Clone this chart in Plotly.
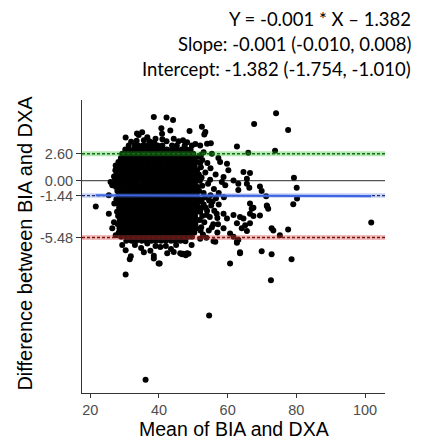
import plotly.graph_objects as go

# Bland-Altman summary statistics
mean_diff = -1.44
upper_loa = 2.60
lower_loa = -5.48
slope = -0.001
slope_ci = (-0.010, 0.008)
intercept = -1.382
intercept_ci = (-1.754, -1.010)

x_ticks = [20, 40, 60, 80, 100]
y_ticks = [upper_loa, 0.0, mean_diff, lower_loa]
y_tick_text = ["2.60", "0.00", "-1.44", "-5.48"]

# Dense central cloud of observations, listed row by row (difference value, means)
core_row_y = [3.4, 3.0, 2.6, 2.2, 1.8, 1.4, 1.0, 0.6, 0.2, -0.2, -0.6, -1.0,
              -1.4, -1.8, -2.2, -2.6, -3.0, -3.4, -3.8, -4.2, -4.6, -5.0, -5.4, -5.8]
core_row_x = [
    [31.2, 33.0, 34.0, 35.4, 36.6, 38.0, 39.6, 41.0, 43.8, 45.2, 47.5],
    [30.2, 31.1, 32.6, 34.0, 35.3, 36.8, 38.2, 39.5, 41.0, 42.3, 43.8, 45.1, 46.6, 48.0, 49.2],
    [29.3, 30.3, 31.7, 33.1, 34.6, 35.9, 37.4, 38.8, 40.1, 41.6, 43.0, 44.4, 45.8, 47.2, 48.6, 50.0],
    [28.9, 29.9, 31.0, 32.4, 33.8, 35.2, 36.6, 38.0, 39.4, 40.8, 42.2, 43.6, 45.0, 46.4, 47.8, 49.2, 50.4],
    [28.2, 29.4, 30.2, 31.6, 33.0, 34.4, 35.8, 37.2, 38.6, 40.0, 41.4, 42.8, 44.2, 45.6, 47.0, 48.4, 49.8, 50.9],
    [27.6, 28.9, 30.0, 30.9, 32.2, 33.7, 35.0, 36.5, 37.8, 39.3, 40.6, 42.1, 43.4, 44.9, 46.2, 47.7, 49.0, 50.4],
    [27.3, 28.7, 30.1, 31.5, 32.9, 34.3, 35.7, 37.1, 38.5, 39.9, 41.3, 42.7, 44.1, 45.5, 46.9, 48.3, 49.7, 51.1],
    [27.6, 28.9, 29.7, 30.9, 32.3, 33.7, 35.1, 36.5, 37.9, 39.3, 40.7, 42.1, 43.5, 44.9, 46.3, 47.7, 49.1, 50.5, 51.6],
    [27.2, 28.5, 29.6, 30.8, 32.0, 33.0, 34.4, 35.8, 37.2, 38.6, 40.0, 41.4, 42.8, 44.2, 45.6, 47.0, 48.4, 49.8, 51.0],
    [27.0, 28.3, 29.5, 30.9, 32.3, 33.6, 35.1, 36.5, 37.9, 39.2, 40.7, 42.1, 43.5, 44.8, 46.3, 47.7, 49.1, 50.5],
    [27.5, 28.7, 30.2, 31.6, 33.0, 34.4, 35.8, 37.2, 38.6, 40.0, 41.4, 42.8, 44.2, 45.6, 47.0, 48.4, 49.8, 51.3],
    [27.9, 29.2, 30.3, 31.5, 32.6, 33.7, 35.1, 36.5, 37.9, 39.3, 40.7, 42.1, 43.5, 44.9, 46.3, 47.7, 49.1, 50.6],
    [28.2, 29.4, 30.6, 31.6, 33.0, 34.4, 35.8, 37.2, 38.6, 40.0, 41.4, 42.8, 44.2, 45.6, 47.0, 48.4, 49.8, 51.0],
    [27.6, 28.8, 30.0, 30.9, 32.3, 33.7, 35.1, 36.5, 37.9, 39.3, 40.7, 42.1, 43.5, 44.9, 46.3, 47.7, 49.1, 50.6, 51.8],
    [28.0, 29.2, 30.2, 31.6, 33.0, 34.4, 35.8, 37.2, 38.6, 40.0, 41.4, 42.8, 44.2, 45.6, 47.0, 48.4, 49.8, 51.1],
    [28.4, 29.5, 30.9, 32.3, 33.7, 35.1, 36.5, 37.9, 39.3, 40.7, 42.1, 43.5, 44.9, 46.3, 47.7, 49.1, 50.5, 51.7],
    [27.8, 28.9, 30.2, 31.6, 33.0, 34.4, 35.8, 37.2, 38.6, 40.0, 41.4, 42.8, 44.2, 45.6, 47.0, 48.4, 49.8, 51.0],
    [28.1, 29.5, 30.9, 32.3, 33.7, 35.1, 36.5, 37.9, 39.3, 40.7, 42.1, 43.5, 44.9, 46.3, 47.7, 49.1, 50.5],
    [28.6, 29.8, 30.8, 31.6, 33.0, 34.4, 35.8, 37.2, 38.6, 40.0, 41.4, 42.8, 44.2, 45.6, 47.0, 48.4, 49.8, 51.1],
    [28.0, 29.2, 30.4, 31.4, 32.4, 33.8, 35.2, 36.6, 38.0, 39.4, 40.8, 42.2, 43.6, 45.0, 46.4, 47.8, 49.2, 50.6],
    [28.5, 29.7, 30.8, 31.6, 33.0, 34.4, 35.8, 37.2, 38.6, 40.0, 41.4, 42.8, 44.2, 45.6, 47.0, 48.4, 49.8, 50.9],
    [28.3, 29.7, 31.1, 32.5, 33.9, 35.3, 36.7, 38.1, 39.5, 40.9, 42.3, 43.7, 45.1, 46.5, 47.9, 49.3, 50.3],
    [29.0, 30.4, 31.8, 33.2, 34.6, 36.0, 37.4, 38.8, 40.2, 41.6, 43.0, 44.4, 45.8, 47.2, 48.6, 49.6],
    [30.5, 32.0, 33.4, 35.0, 36.3, 37.8, 39.2, 40.6, 42.0, 43.5, 44.8, 46.3],
]

# Points scattered around the cloud: (mean, difference)
upper_pts = [
    (30.3, 4.16), (31.9, 3.75), (33.5, 3.85), (34.1, 4.42), (35.1, 4.67), (33.6, 4.55),
    (36.6, 4.2), (37.2, 3.8), (35.6, 3.9), (38.6, 3.7), (39.0, 4.04), (40.9, 4.52),
    (40.7, 5.06), (41.0, 4.0), (42.2, 3.8), (43.3, 4.84), (44.3, 4.04), (45.7, 3.8),
    (47.0, 3.9), (48.2, 3.7), (48.9, 4.8), (49.6, 3.4), (38.5, 6.15), (42.2, 6.1),
    (44.1, 5.85), (52.5, 5.2), (53.5, 4.7), (53.2, 4.45), (50.6, 3.55), (52.0, 3.4),
    (54.0, 3.56), (55.1, 3.6), (62.7, 3.3),
]
right_pts = [
    (52.3, 2.5), (53.0, 2.75), (55.4, 2.6), (52.6, 2.0), (54.1, 1.7), (57.3, 2.2),
    (57.8, 1.8), (52.2, 1.3), (55.0, 1.2), (59.8, 1.63), (60.2, 1.0), (53.5, 0.8),
    (56.5, 0.6), (52.4, 0.3), (58.8, 0.35), (54.9, 0.1), (58.3, -0.13), (59.3, -0.45),
    (61.7, 0.03), (63.1, -0.3), (52.6, -0.5), (54.3, -0.3), (56.0, -0.8), (53.0, -1.2),
    (55.0, -1.4), (57.4, -1.2), (52.4, -1.9), (54.6, -1.9), (56.6, -1.7), (58.9, -1.6),
    (63.1, -0.9), (53.0, -2.3), (55.2, -2.4), (57.4, -2.3), (52.2, -2.7), (54.0, -2.9),
    (56.1, -2.9), (58.8, -3.2), (59.8, -3.65), (61.7, -3.3), (63.6, -3.5), (52.6, -3.4),
    (54.8, -3.5), (57.0, -3.6), (53.2, -4.0), (55.8, -4.2), (52.3, -4.5), (54.5, -4.8),
    (58.8, -4.6), (60.7, -5.1), (61.7, -5.4), (62.7, -4.1), (52.8, -5.2), (55.9, -5.84),
    (56.4, -5.9), (63.1, -5.7), (62.7, -5.9), (57.0, -5.0), (64.6, 0.83), (66.5, 0.73),
    (65.6, 0.19), (65.6, -0.3), (66.3, -0.67), (66.5, -2.2), (67.0, -2.7),
    (51.8, -2.0), (52.0, -3.0), (51.9, -3.8), (52.1, -4.8), (53.4, -1.6), (53.6, -2.6),
    (55.6, -2.0), (56.8, -3.2), (53.9, -3.3), (55.4, -4.5), (57.2, -4.2), (53.8, -5.5),
    (51.7, -1.0), (51.9, 0.0), (52.0, 1.7), (51.6, 2.3), (52.0, -5.6),
]
left_pts = [
    (21.6, -2.5), (25.9, -0.13), (26.4, -0.45), (25.4, -1.4), (25.4, -3.2), (26.9, -4.0),
    (26.4, -4.6), (27.4, -5.26), (27.4, 1.47), (26.9, 0.4), (27.0, -2.2),
]
lower_pts = [
    (29.3, -6.2), (30.3, -6.7), (31.8, -7.3), (31.5, -7.57), (34.8, -6.5), (38.5, -7.5),
    (40.2, -8.0), (42.4, -7.0), (44.3, -6.87), (46.2, -7.0), (48.2, -7.0), (36.6, -6.06),
    (40.4, -6.4), (37.5, -6.76), (30.3, -9.04), (39.9, -8.0), (38.5, -7.25), (47.0, -7.06),
    (48.6, -7.06), (33.0, -6.2), (35.6, -6.9), (39.0, -6.3), (42.0, -6.3), (45.0, -6.2),
    (47.7, -5.84), (46.7, -7.1), (47.8, -7.2), (43.5, -6.6), (49.5, -6.2),
]
outlier_pts = [
    (101.8, -4.04), (74.1, 6.5), (67.7, 5.48), (77.6, 4.9), (66.0, 2.69), (73.8, 2.9),
    (79.3, 0.29), (80.1, -0.67), (80.2, -1.73), (79.1, -2.28), (77.6, -4.7), (75.2, -5.26),
    (78.6, -7.57), (72.6, -9.6), (72.8, -7.1), (69.9, -6.8), (63.6, -7.0), (60.7, -8.0),
    (54.6, -13.0), (36.1, -19.2), (71.4, -2.4), (71.8, -2.7), (69.4, -3.37), (72.8, -4.6),
    (73.3, -4.8), (67.5, -2.6), (66.5, -3.2), (67.5, -3.4), (64.6, -3.65), (65.1, -4.3),
    (66.5, -4.1), (64.1, -4.6), (65.6, -4.85), (69.4, -0.55), (69.9, -1.0), (71.2, -1.5),
    (71.5, -2.5), (63.6, -6.9), (62.7, -6.0),
]

# Assemble all observations
xs, ys = [], []
for yv, row in zip(core_row_y, core_row_x):
    xs.extend(row)
    ys.extend([yv] * len(row))
for group in (upper_pts, right_pts, left_pts, lower_pts, outlier_pts):
    for px, py in group:
        xs.append(px)
        ys.append(py)

x_lo, x_hi = min(xs), max(xs)
x_pad = (x_hi - x_lo) * 0.05
y_lo, y_hi = min(ys), max(ys)
y_pad = (y_hi - y_lo) * 0.05
x_range = [x_lo - x_pad, x_hi + x_pad]
y_range = [y_lo - y_pad, y_hi + y_pad]


def hline(fig, val, color, width, dash=None):
    fig.add_trace(go.Scatter(
        x=x_range, y=[val, val], mode="lines",
        line=dict(color=color, width=width, dash=dash),
        showlegend=False, hoverinfo="skip",
    ))


fig = go.Figure()

fig.add_trace(go.Scatter(
    x=xs, y=ys, mode="markers",
    marker=dict(color="black", size=6, line=dict(width=0)),
    showlegend=False, hoverinfo="skip",
))

# Mean difference, drawn under the fitted line
hline(fig, mean_diff, "rgba(70,110,230,0.3)", 4.5)
hline(fig, mean_diff, "#1d2a6e", 1.3, "3px,2px")

# Fitted regression of difference on mean
fig.add_trace(go.Scatter(
    x=[x_lo, x_hi], y=[slope * x_lo + intercept, slope * x_hi + intercept],
    mode="lines", line=dict(color="#3f66e0", width=2.2),
    showlegend=False, hoverinfo="skip",
))

# Limits of agreement
hline(fig, upper_loa, "rgba(40,190,40,0.35)", 5)
hline(fig, upper_loa, "#0f6e0f", 1.4, "3px,2px")
hline(fig, lower_loa, "rgba(215,70,70,0.35)", 5)
hline(fig, lower_loa, "#7a1010", 1.4, "3px,2px")

shapes = [
    dict(type="line", xref="x domain", yref="y", x0=0, x1=1, y0=0, y1=0,
         line=dict(color="#555555", width=1.3), layer="below"),
]

plot_w, plot_h = 303, 293
label_lines = [
    f"Y = {slope:.3f} * X \u2013 {abs(intercept):.3f}",
    f"Slope: {slope:.3f} ({slope_ci[0]:.3f}, {slope_ci[1]:.3f})",
    f"Intercept: {intercept:.3f} ({intercept_ci[0]:.3f}, {intercept_ci[1]:.3f})",
]
annotations = []
for i, txt in enumerate(label_lines):
    annotations.append(dict(
        text=txt, xref="paper", yref="paper", x=1.092, y=1.0 + (81 - 25 * i) / plot_h,
        xanchor="right", yanchor="middle", showarrow=False,
        font=dict(family="Lato", size=18.5, color="black"),
    ))
annotations.append(dict(
    text="Mean of BIA and DXA", xref="paper", yref="paper", x=0.5, y=-36 / plot_h,
    xanchor="center", yanchor="middle", showarrow=False,
    font=dict(family="Liberation Sans, Arial, sans-serif", size=19.5, color="black"),
))
annotations.append(dict(
    text="Difference between BIA and DXA", xref="paper", yref="paper",
    x=-57 / plot_w, y=0.51, textangle=-90,
    xanchor="center", yanchor="middle", showarrow=False,
    font=dict(family="Liberation Sans, Arial, sans-serif", size=20, color="black"),
))

fig.update_layout(
    width=434, height=439,
    margin=dict(l=82, r=49, t=100, b=46),
    paper_bgcolor="white", plot_bgcolor="white",
    shapes=shapes, annotations=annotations,
    font=dict(family="Liberation Sans, Arial, sans-serif"),
    xaxis=dict(
        range=x_range, tickvals=x_ticks, automargin=False,
        ticks="outside", ticklen=4, tickcolor="#333333",
        showline=True, linecolor="#333333", linewidth=1.1,
        showgrid=False, zeroline=False,
        tickfont=dict(size=14.5, color="#4d4d4d"),
    ),
    yaxis=dict(
        range=y_range, tickvals=y_ticks, ticktext=y_tick_text, automargin=False,
        ticks="outside", ticklen=5, tickcolor="#333333",
        showline=True, linecolor="#333333", linewidth=1.1,
        showgrid=False, zeroline=False,
        tickfont=dict(size=14.5, color="#4d4d4d"),
    ),
)

fig.write_html("out.html")
